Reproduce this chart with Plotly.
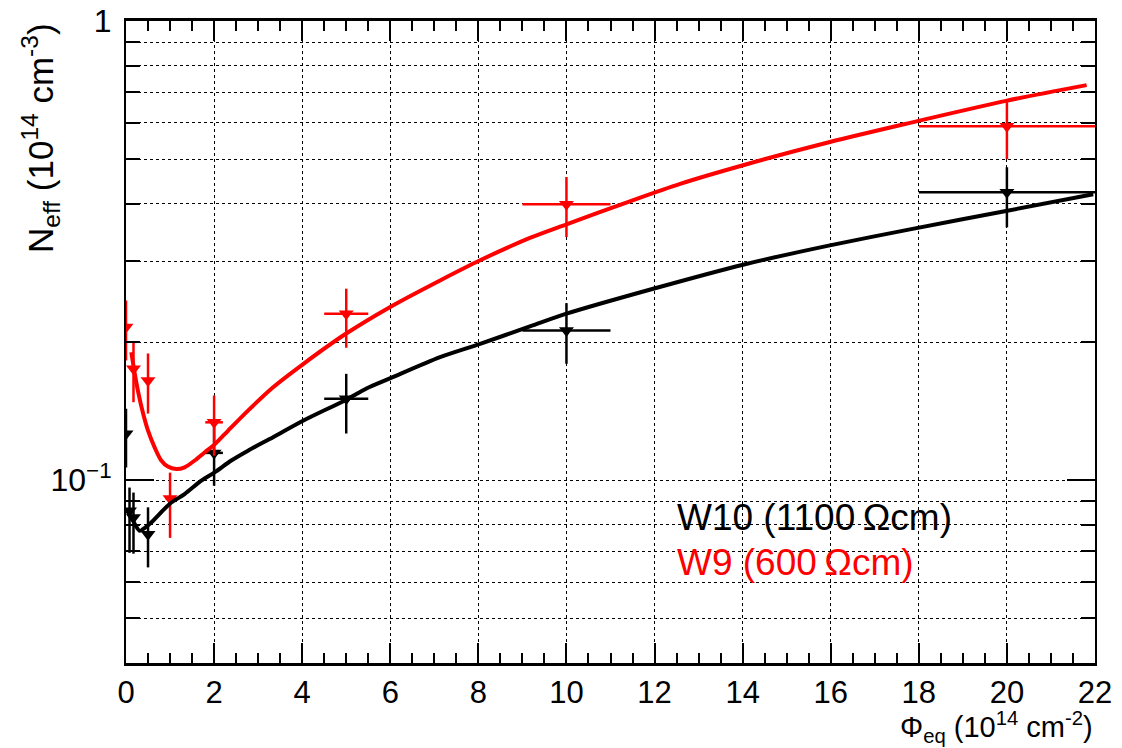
import plotly.graph_objects as go

# ---- data ----
# W9 (600 Ohm cm), red
w9_x = [0, 0.17, 0.5, 1, 2, 5, 10, 20]
w9_xerr = [0, 0.017, 0.05, 0.1, 0.2, 0.5, 1, 2]
w9_y = [0.2155, 0.1749, 0.1649, 0.0912, 0.1337, 0.2305, 0.399, 0.5903]
w9_up = [0.2463, 0.1999, 0.1888, 0.1039, 0.1529, 0.2613, 0.4575, 0.6659]
w9_lo = [0.1823, 0.1479, 0.1397, 0.0749, 0.1131, 0.1943, 0.3385, 0.5001]

# W10 (1100 Ohm cm), black
w10_x = [0, 0.08, 0.17, 0.5, 2, 5, 10, 20]
w10_xerr = [0, 0.008, 0.017, 0.05, 0.2, 0.5, 1, 2]
w10_y = [0.1262, 0.0858, 0.0830, 0.0763, 0.1147, 0.1504, 0.2120, 0.4237]
w10_up = [0.1432, 0.0964, 0.0940, 0.0873, 0.1315, 0.1705, 0.2430, 0.4803]
w10_lo = [0.1066, 0.0695, 0.0692, 0.0646, 0.0973, 0.1264, 0.1793, 0.3554]

# fitted curves
w9_fit_x = [0.12, 0.2, 0.27, 0.39, 0.5, 0.65, 0.8, 0.95, 1.14, 1.33, 1.56, 1.79,
            2.01, 2.32, 2.77, 3.34, 4.03, 4.99, 5.99, 7.13, 8.04, 9.17, 10.0,
            11.44, 12.58, 14.01, 15.98, 17.8, 19.98, 21.81]
w9_fit_y = [0.190, 0.1705, 0.1568, 0.1395, 0.1282, 0.1179, 0.1104, 0.1071, 0.1058,
            0.1067, 0.1104, 0.1151, 0.1196, 0.1283, 0.1418, 0.1594, 0.1793, 0.2084,
            0.2382, 0.2723, 0.3013, 0.337, 0.3608, 0.405, 0.442, 0.4853, 0.5452,
            0.6001, 0.670, 0.725]

w10_fit_x = [0.05, 0.16, 0.31, 0.42, 0.58, 0.99, 1.33, 1.71, 2.01, 2.39, 2.77, 3.34,
             4.03, 4.99, 5.46, 5.99, 7.13, 8.04, 9.17, 10.0, 11.97, 14.01, 15.98,
             17.8, 19.98, 21.96]
w10_fit_y = [0.0851, 0.0816, 0.0776, 0.0787, 0.081, 0.0888, 0.0933, 0.0998, 0.104,
             0.1104, 0.116, 0.1241, 0.1349, 0.1496, 0.1584, 0.1666, 0.1854, 0.1982,
             0.2162, 0.2305, 0.2612, 0.2947, 0.3247, 0.3518, 0.3858, 0.4195]

y_major = [0.1, 1]
y_major_text = ["10<sup>\u22121</sup>", "1"]
y_minor = [0.04, 0.05, 0.06, 0.07, 0.08, 0.09, 0.2, 0.3, 0.4, 0.5, 0.6, 0.7, 0.8, 0.9]

RED = "#ff0000"
BLACK = "#000000"


def pts(x, y, up, lo, xerr, color):
    return go.Scatter(
        x=x, y=y, mode="markers",
        marker=dict(symbol="triangle-down", size=13, color=color),
        error_y=dict(type="data", symmetric=False,
                     array=[u - v for u, v in zip(up, y)],
                     arrayminus=[v - l for v, l in zip(y, lo)],
                     color=color, thickness=2.5, width=0),
        error_x=dict(type="data", array=xerr, color=color, thickness=2.5, width=0),
        showlegend=False, cliponaxis=True,
    )


fig = go.Figure()
fig.add_trace(pts(w10_x, w10_y, w10_up, w10_lo, w10_xerr, BLACK))
fig.add_trace(pts(w9_x, w9_y, w9_up, w9_lo, w9_xerr, RED))
fig.add_trace(go.Scatter(x=w10_fit_x, y=w10_fit_y, mode="lines",
                         line=dict(color=BLACK, width=4, shape="spline", smoothing=0.8),
                         showlegend=False))
fig.add_trace(go.Scatter(x=w9_fit_x, y=w9_fit_y, mode="lines",
                         line=dict(color=RED, width=4, shape="spline", smoothing=0.8),
                         showlegend=False))

FONT = "Liberation Sans, Arial, sans-serif"

fig.update_layout(
    width=1122, height=748,
    margin=dict(l=126, r=27, t=21, b=85, autoexpand=False),
    paper_bgcolor="white", plot_bgcolor="white",
    font=dict(family=FONT, color="black", size=30),
    xaxis=dict(
        range=[0, 22], tickmode="linear", tick0=0, dtick=2, automargin=False,
        ticks="inside", ticklen=20, tickwidth=1.5, tickcolor="black",
        showline=True, linecolor="black", linewidth=2.5, mirror="ticks",
        showgrid=True, gridcolor="black", griddash="dot", gridwidth=1,
        zeroline=False, ticklabelstandoff=0,
        minor=dict(dtick=0.5, tick0=0, ticks="inside", ticklen=10, tickwidth=1.5,
                   tickcolor="black", showgrid=False),
        tickfont=dict(size=31, family=FONT),
    ),
    yaxis=dict(
        type="log", range=[-1.39794, 0], automargin=False,
        tickmode="array", tickvals=y_major, ticktext=y_major_text,
        ticks="inside", ticklen=28, tickwidth=1.5, tickcolor="black",
        showline=True, linecolor="black", linewidth=2, mirror="ticks",
        showgrid=True, gridcolor="black", griddash="dot", gridwidth=1,
        zeroline=False, ticklabelstandoff=6,
        minor=dict(tickmode="array", tickvals=y_minor, ticks="inside", ticklen=14,
                   tickwidth=1.5, tickcolor="black", showgrid=True,
                   gridcolor="black", griddash="dot", gridwidth=1),
        tickfont=dict(size=32, family=FONT),
    ),
    annotations=[
        dict(text="N<sub>eff</sub> (10<sup>14</sup> cm<sup>-3</sup>)",
             xref="paper", yref="paper", x=-0.0888, y=1.0,
             xanchor="center", yanchor="top", textangle=-90, showarrow=False,
             font=dict(size=35, family=FONT, color="black")),
        dict(text="\u03a6<sub>eq</sub> (10<sup>14</sup> cm<sup>-2</sup>)",
             xref="paper", yref="paper", x=1.0, y=-0.066,
             xanchor="right", yanchor="top", showarrow=False,
             font=dict(size=29, family=FONT, color="black")),
        dict(text="W10 (1100\u2009\u03a9cm)",
             xref="paper", yref="paper", x=0.5666, y=0.2274,
             xanchor="left", yanchor="middle", showarrow=False,
             font=dict(size=37, family=FONT, color=BLACK)),
        dict(text="W9 (600\u2009\u03a9cm)",
             xref="paper", yref="paper", x=0.5666, y=0.1558,
             xanchor="left", yanchor="middle", showarrow=False,
             font=dict(size=37, family=FONT, color=RED)),
    ],
)

fig.write_html("out.html")
